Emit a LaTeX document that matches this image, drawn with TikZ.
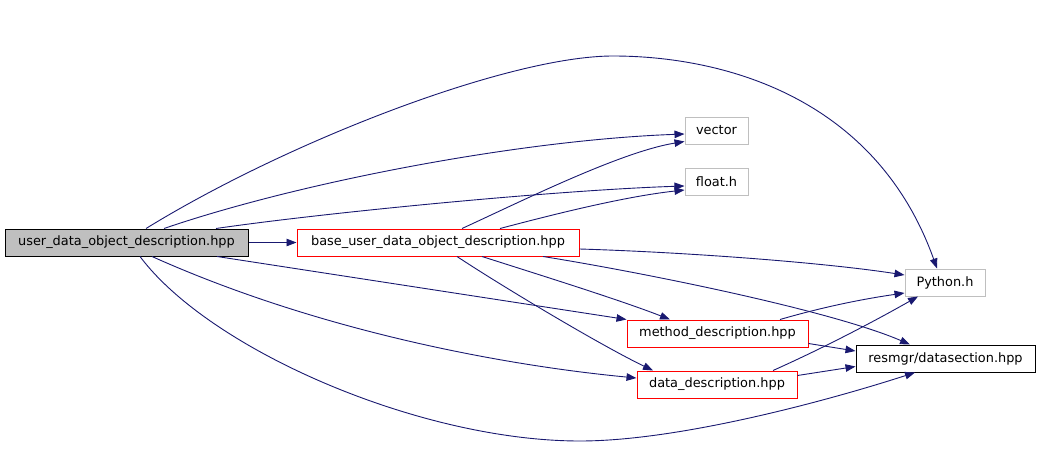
\documentclass[tikz,border=0pt]{standalone}
\usepackage{fontspec}
\setmainfont{DejaVu Sans}
\usepackage{xcolor}
\usepackage{tikz}
\usetikzlibrary{arrows.meta,positioning,calc}
\definecolor{cEdge}{HTML}{191970}
\definecolor{cRed}{HTML}{FF0000}
\definecolor{cFrame}{HTML}{BFBFBF}
\definecolor{cRoot}{HTML}{BFBFBF}
\tikzset{
  fbox/.style={draw=#1,fill=white,line width=1pt,minimum height=27pt,inner sep=0pt,text=black,
    font=\fontsize{12.9}{15}\selectfont},
  fbox/.default=cFrame,
  rootbox/.style={fbox=black,fill=cRoot},
  inc/.style={-{Triangle[length=10pt,width=7.5pt]},line width=0.9pt,color=cEdge},
}

\begin{document}
\begin{tikzpicture}[x=1pt,y=-1pt]
  \useasboundingbox (0,0) rectangle (1040,468);
  % files
  \node[rootbox,minimum width=243pt] (udod) at (126.5,242.5) {user\_data\_object\_description.hpp};
  \node[fbox=cRed,minimum width=282pt] (base) at (438,242.5) {base\_user\_data\_object\_description.hpp};
  \node[fbox,minimum width=63pt] (vec) at (716.5,130.5) {vector};
  \node[fbox,minimum width=63pt] (flt) at (716.5,181.5) {float.h};
  \node[fbox,minimum width=80pt] (py) at (945,282.5) {Python.h};
  \node[fbox=cRed,minimum width=181pt] (meth) at (717.5,333.5) {method\_description.hpp};
  \node[fbox=black,minimum width=179pt] (res) at (945.5,358.5) {resmgr/datasection.hpp};
  \node[fbox=cRed,minimum width=160pt] (data) at (717,384.5) {data\_description.hpp};
  % includes of user_data_object_description.hpp
  \draw[inc] (udod.east) -- (base.west);
  \draw[inc] ([xshift=37.5pt]udod.north) .. controls (300,182) and (520,140) .. ([yshift=-3.5pt]vec.west);
  \draw[inc] ([xshift=89.5pt]udod.north) .. controls (330,212) and (560,190) .. ([yshift=-4.5pt]flt.west);
  \draw[inc] ([xshift=19.5pt]udod.north) .. controls (290,140) and (510,56) .. (613,56)
    .. controls (720,56) and (875,95) .. ([xshift=-8pt]py.north);
  \draw[inc] ([xshift=90.5pt]udod.south) -- (meth.north west);
  \draw[inc] ([xshift=25.5pt]udod.south) .. controls (316,330) and (500,365) .. ([yshift=6.5pt]data.west);
  \draw[inc] ([xshift=13.5pt]udod.south) .. controls (210,350) and (420,441) .. (580,441)
    .. controls (680,441) and (830,400) .. ([xshift=-30.5pt]res.south);
  % includes of base_user_data_object_description.hpp
  \draw[inc] ([xshift=24pt]base.north) .. controls (520,202) and (620,152) .. ([yshift=-11pt]vec.west);
  \draw[inc] ([xshift=62pt]base.north) .. controls (540,218) and (620,197) .. ([yshift=-8.5pt]flt.west);
  \draw[inc] ([yshift=-6.5pt]base.east) .. controls (680,252) and (820,262) .. ([yshift=7.5pt]py.west);
  \draw[inc] ([xshift=105pt]base.south) .. controls (640,272) and (830,310) .. ([xshift=-35.5pt]res.north);
  \draw[inc] ([xshift=44pt]base.south) .. controls (540,275) and (620,300) .. ([xshift=-47.5pt]meth.north);
  \draw[inc] ([xshift=19pt]base.south) .. controls (500,285) and (600,345) .. ([xshift=-64pt]data.north);
  % includes of method_description.hpp and data_description.hpp
  \draw[inc] ([xshift=62.5pt]meth.north) .. controls (830,305) and (870,298) .. ([yshift=-10.5pt]py.west);
  \draw[inc] ([yshift=-10pt]meth.east) -- ([yshift=7.5pt]res.west);
  \draw[inc] ([xshift=56pt]data.north) .. controls (830,345) and (880,318) .. ([xshift=-27pt]py.south);
  \draw[inc] ([yshift=9pt]data.east) -- ([yshift=-8pt]res.west);
\end{tikzpicture}
\end{document}
